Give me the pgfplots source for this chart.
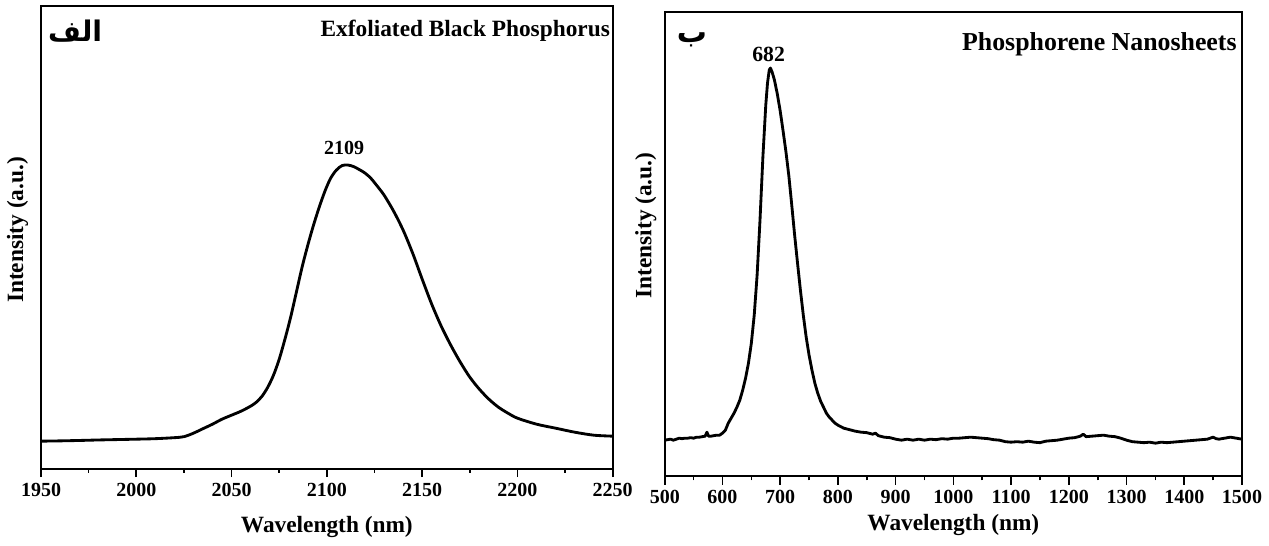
\documentclass[border=0pt]{standalone}
\usepackage{fontspec}
\setmainfont{Liberation Serif}
\newfontfamily\arabicfont[Script=Arabic]{DejaVu Sans}
\TeXXeTstate=1
\usepackage{pgfplots}
\pgfplotsset{compat=1.18}
\usetikzlibrary{calc}

\pgfplotsset{
  panel/.style={
    scale only axis,
    axis line style={line width=1pt},
    tick align=outside,
    xtick pos=bottom,
    ytick=\empty,
    major tick length=5pt,
    minor tick length=2.5pt,
    tick style={black, line width=1pt},
    minor x tick num=1,
    ticklabel style={font=\fontsize{12}{14}\selectfont\bfseries},
    /pgf/number format/assume math mode=true,
    /pgf/number format/set thousands separator={},
    xlabel style={font=\fontsize{14}{16}\selectfont\bfseries,
      at={(axis description cs:0.5,0)}, anchor=center},
    ylabel style={font=\fontsize{14}{16}\selectfont\bfseries, anchor=center},
  },
  curve/.style={black, line width=1.7pt, line join=round}
}

\begin{document}
\begin{tikzpicture}
% left: exfoliated black phosphorus
\begin{axis}[panel,
  width=342.9pt, height=277.5pt,
  xmin=1950, xmax=2250, ymin=6.5, ymax=469,
  xtick={1950,2000,...,2250},
  xlabel={Wavelength (nm)}, ylabel={Intensity (a.u.)},
  xlabel style={yshift=-35pt},
  ylabel style={at={(axis description cs:-0.041,0.516)}},
]
\addplot[curve, smooth] coordinates {
  (1950,34) (1960,34.3) (1970,34.7) (1980,35.2) (1990,35.6) (2000,36)
  (2010,36.5) (2020,37.5) (2025,38.5) (2030,42) (2035,46.5) (2040,51)
  (2045,56) (2050,60) (2055,64) (2060,69) (2063,73) (2066,79) (2069,88)
  (2072,100) (2075,116) (2078,136) (2081,158) (2084,183) (2087,208)
  (2090,230) (2093,250) (2096,268) (2099,284) (2102,297) (2105,305)
  (2108,309.5) (2111,310) (2114,308.5) (2117,305.5) (2120,302) (2123,297)
  (2126,290) (2130,280) (2135,264) (2140,245) (2145,222) (2150,196)
  (2155,171) (2160,149) (2165,130) (2170,113) (2175,98) (2180,86)
  (2185,76) (2190,68) (2195,62) (2200,57) (2210,51) (2220,47) (2230,43)
  (2240,40) (2250,39)
};
\node[anchor=south, inner sep=0, font=\fontsize{12}{14}\selectfont\bfseries]
  at (axis cs:2109,320) {2109};
\node[anchor=base east, inner sep=0, font=\fontsize{14}{16}\selectfont\bfseries]
  at (rel axis cs:1,0.935) [xshift=-1.5pt] {Exfoliated Black Phosphorus};
\node[anchor=base west, inner sep=0, font=\fontsize{17}{19}\selectfont\bfseries]
  at (rel axis cs:0,0.924) [xshift=4pt] {\arabicfont\bfseries\beginR الف\endR};
\coordinate (tl) at (rel axis cs:0,1);
\end{axis}

% right: phosphorene nanosheets
\begin{axis}[panel,
  at={(374.1pt,-4.5pt)},
  width=346.2pt, height=278.4pt,
  xmin=500, xmax=1500, ymin=-1, ymax=463,
  xtick={500,600,...,1500},
  xlabel={Wavelength (nm)}, ylabel={Intensity (a.u.)},
  xlabel style={yshift=-29.4pt},
  ylabel style={at={(axis description cs:-0.033,0.54)}},
]
\addplot[curve] coordinates {
  (500,35) (505,35.5) (510,36) (515,35) (520,36) (525,37) (530,36.5)
  (535,37) (540,37) (545,37.5) (550,37) (555,38) (560,38) (565,38.5)
  (570,39) (573,43) (576,39) (580,39) (585,39.5) (590,40) (595,40)
  (600,42) (605,45) (610,52) (615,57) (620,62) (625,68) (630,75)
  (635,85) (640,97) (645,112) (650,132) (655,160) (660,200) (665,255)
  (670,318) (675,370) (678,392) (681,405) (683,407) (686,403) (690,395)
  (695,381) (700,364) (705,344) (710,323) (715,299) (720,270) (725,240)
  (730,212) (735,185) (740,160) (745,138) (750,120) (755,105) (760,92)
  (765,82) (770,74) (775,68) (780,62) (785,58) (790,55) (795,52) (800,50)
  (810,47) (820,45.5) (830,44) (840,43) (850,42.5) (860,41) (865,42)
  (870,39.5) (880,38) (890,37.5) (900,36) (910,35) (920,36) (930,35)
  (940,36) (950,35) (960,36) (970,35.5) (980,36.5) (990,36) (1000,37)
  (1010,37) (1020,37.5) (1030,38) (1040,37.5) (1050,37) (1060,36.5)
  (1070,35.5) (1080,35) (1090,33.5) (1100,33) (1110,33.5) (1120,33)
  (1130,34) (1140,33) (1150,32.5) (1160,34) (1170,34.5) (1180,35)
  (1190,36) (1200,37) (1210,37.5) (1220,39) (1225,41) (1230,38.5)
  (1240,39) (1250,39.5) (1260,40) (1270,39) (1280,38.5) (1290,37)
  (1300,35) (1310,33.5) (1320,33) (1330,32.5) (1340,33) (1350,32)
  (1360,33) (1370,32.5) (1380,33) (1390,33.5) (1400,34) (1410,34.5)
  (1420,35) (1430,35.5) (1440,36) (1450,38) (1455,36.5) (1460,36)
  (1470,37) (1480,38) (1490,37) (1500,36)
};
\node[anchor=south, inner sep=0, font=\fontsize{13}{15}\selectfont\bfseries]
  at (axis cs:680,413) {682};
\node[anchor=base east, inner sep=0, font=\fontsize{15.5}{17}\selectfont\bfseries]
  at (rel axis cs:1,0.918) [xshift=-3pt] {Phosphorene Nanosheets};
\node[anchor=base west, inner sep=0, font=\fontsize{18}{20}\selectfont\bfseries]
  at (rel axis cs:0,0.935) [xshift=7pt] {\arabicfont\bfseries\beginR ب\endR};
\coordinate (br) at (rel axis cs:1,0);
\end{axis}
% white margins as in the reference
\path ($(tl)+(-24.6pt,3.6pt)$) rectangle ($(br)+(16.2pt,-41.4pt)$);
\end{tikzpicture}
\end{document}
